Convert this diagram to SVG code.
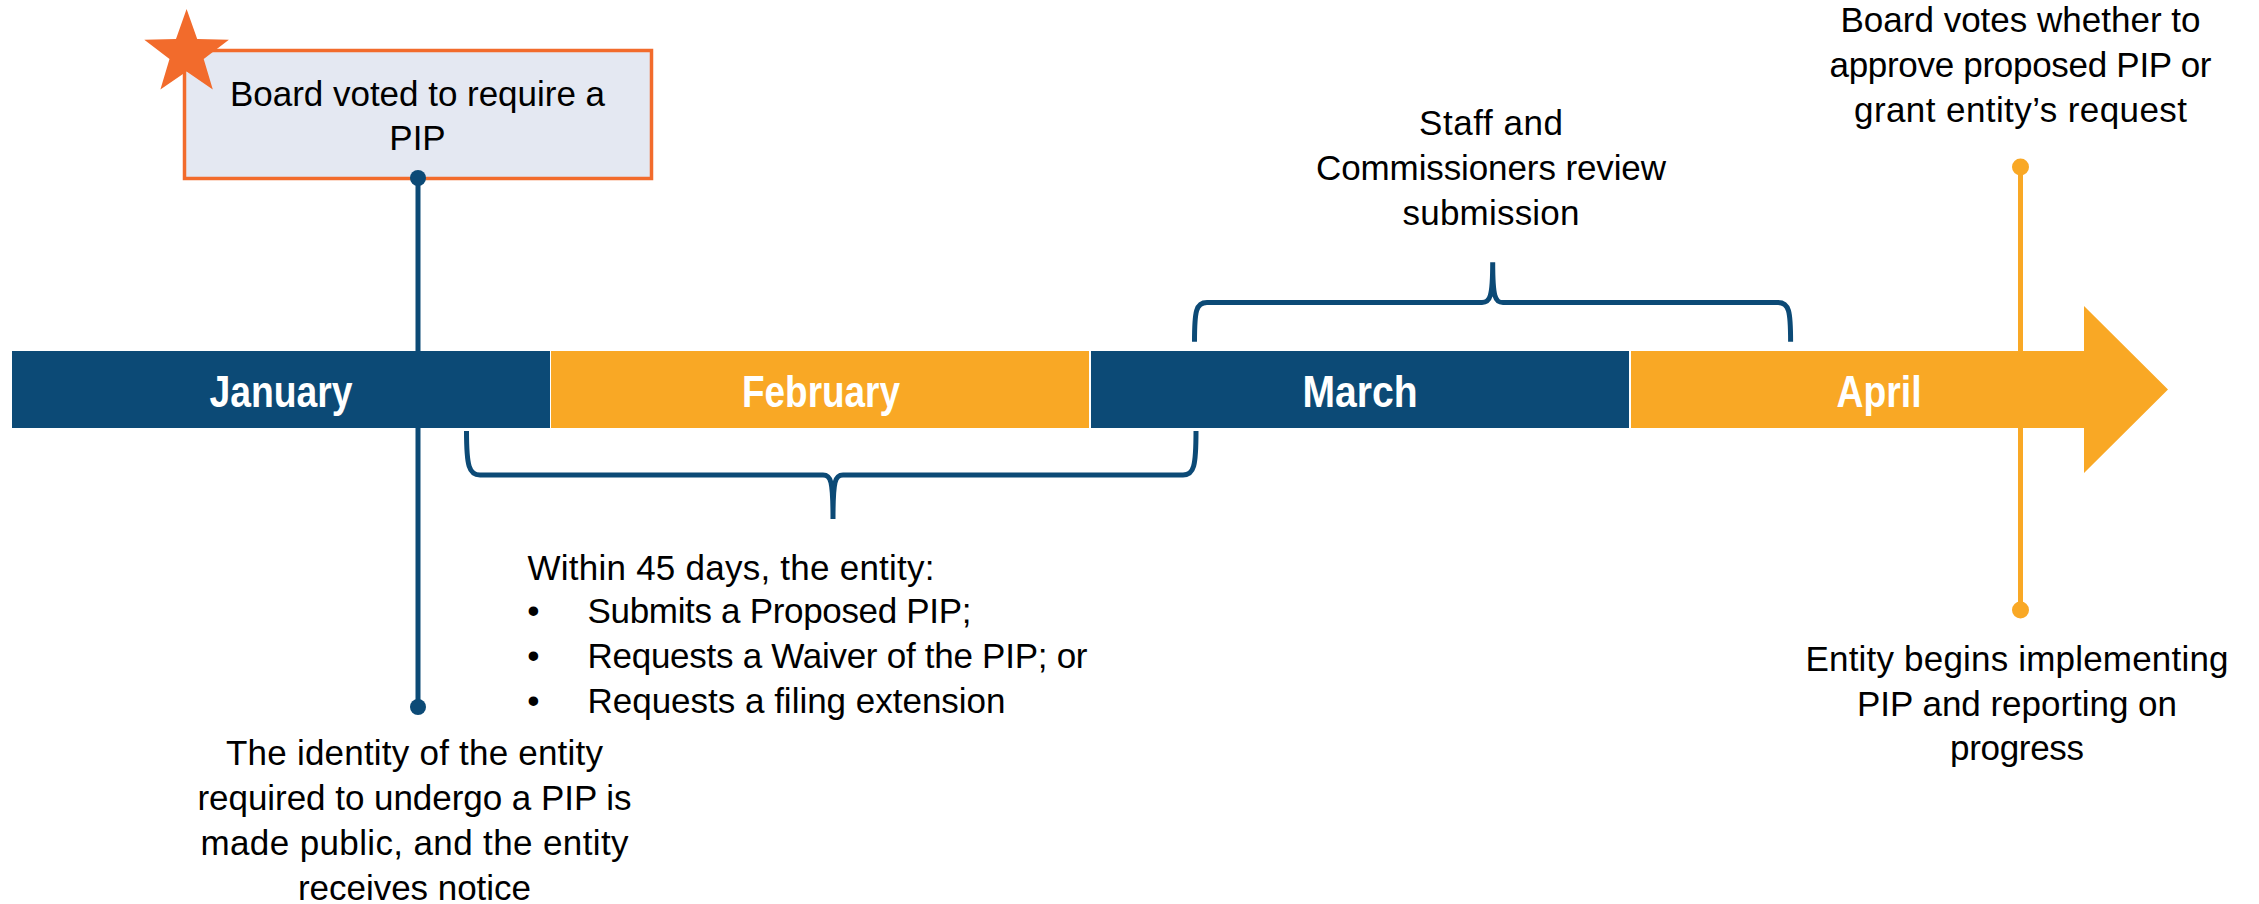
<svg xmlns="http://www.w3.org/2000/svg" width="2259" height="904" viewBox="0 0 2259 904">
<style>
.t{font-family:"Liberation Sans",Arial,sans-serif;font-size:35px;fill:#000}
.c{text-anchor:middle}
.m{font-family:"Liberation Sans Narrow","Liberation Sans",Arial,sans-serif;font-weight:bold;font-size:44px;fill:#fff;text-anchor:middle}
.blue{fill:#0C4A76}
.orange{fill:#F9A825}
.br{fill:none;stroke:#0C4A76;stroke-width:5;stroke-linecap:butt}
</style>
<rect width="2259" height="904" fill="#fff"/>
<g id="connectors">
  <line x1="418" y1="178" x2="418" y2="707" stroke="#0C4A76" stroke-width="5"/>
  <circle cx="418" cy="707" r="8" class="blue"/>
  <line x1="2020.5" y1="167" x2="2020.5" y2="610" stroke="#F9A825" stroke-width="5"/>
  <circle cx="2020.5" cy="167" r="8.5" class="orange"/>
  <circle cx="2020.5" cy="610" r="8.5" class="orange"/>
  <path class="br" d="M466.5,431 C466.5,466 469,475 480,475 L823,475 C831,475 833,481 833,519 M833,519 C833,481 835,475 843,475 L1183,475 C1194,475 1196,466 1196,431"/>
  <path class="br" d="M1194.5,341.7 C1194.5,311 1196,302.5 1207,302.5 L1482,302.5 C1490,302.5 1492.7,297 1492.7,262.3 M1492.7,262.3 C1492.7,297 1495,302.5 1503,302.5 L1778,302.5 C1789,302.5 1790.6,311 1790.6,341.7"/>
</g>
<g id="timeline">
  <g id="january">
    <rect x="12" y="351" width="538" height="77" class="blue"/>
    <text x="281" y="407" class="m" textLength="143" lengthAdjust="spacingAndGlyphs">January</text>
  </g>
  <g id="february">
    <rect x="551" y="351" width="538" height="77" class="orange"/>
    <text x="821" y="407" class="m" textLength="158" lengthAdjust="spacingAndGlyphs">February</text>
  </g>
  <g id="march">
    <rect x="1091" y="351" width="538" height="77" class="blue"/>
    <text x="1360" y="407" class="m" textLength="115" lengthAdjust="spacingAndGlyphs">March</text>
  </g>
  <g id="april">
    <polygon points="1631,351 2084,351 2084,306 2168,389.5 2084,473 2084,428 1631,428" class="orange"/>
    <text x="1879" y="407" class="m" textLength="85" lengthAdjust="spacingAndGlyphs">April</text>
  </g>
</g>
<g id="board-voted">
  <rect x="184.5" y="50.5" width="467" height="128" fill="#E4E8F2" stroke="#F26B2C" stroke-width="3.5"/>
  <polygon points="186.6,9 197.2,38.9 228.9,39.75 203.7,59.1 212.8,89.5 186.6,71.5 160.4,89.5 169.5,59.1 144.3,39.75 176,38.9" fill="#F26B2C"/>
  <text class="t c" x="417.5" y="106" textLength="375">Board voted to require a</text>
  <text class="t c" x="417.5" y="150">PIP</text>
  <circle cx="418" cy="178" r="8" class="blue"/>
</g>
<g id="identity-public">
  <text class="t c" x="414.5" y="765" textLength="377">The identity of the entity</text>
  <text class="t c" x="414.5" y="810" textLength="434">required to undergo a PIP is</text>
  <text class="t c" x="414.5" y="855" textLength="428">made public, and the entity</text>
  <text class="t c" x="414.5" y="900" textLength="233">receives notice</text>
</g>
<g id="within-45-days">
  <text class="t" x="527.5" y="580" textLength="407">Within 45 days, the entity:</text>
  <text class="t c" x="533.5" y="623">•</text>
  <text class="t" x="587.5" y="623" textLength="384">Submits a Proposed PIP;</text>
  <text class="t c" x="533.5" y="668">•</text>
  <text class="t" x="587.5" y="668" textLength="500">Requests a Waiver of the PIP; or</text>
  <text class="t c" x="533.5" y="713">•</text>
  <text class="t" x="587.5" y="713" textLength="418">Requests a filing extension</text>
</g>
<g id="staff-review">
  <text class="t c" x="1491" y="135" textLength="144">Staff and</text>
  <text class="t c" x="1491" y="180" textLength="350">Commissioners review</text>
  <text class="t c" x="1491" y="225" textLength="177">submission</text>
</g>
<g id="board-votes">
  <text class="t c" x="2020.5" y="32" textLength="360">Board votes whether to</text>
  <text class="t c" x="2020.5" y="77" textLength="382">approve proposed PIP or</text>
  <text class="t c" x="2020.5" y="122" textLength="333">grant entity’s request</text>
</g>
<g id="entity-begins">
  <text class="t c" x="2017" y="670.5" textLength="423">Entity begins implementing</text>
  <text class="t c" x="2017" y="715.5" textLength="320">PIP and reporting on</text>
  <text class="t c" x="2017" y="760" textLength="134">progress</text>
</g>
</svg>
